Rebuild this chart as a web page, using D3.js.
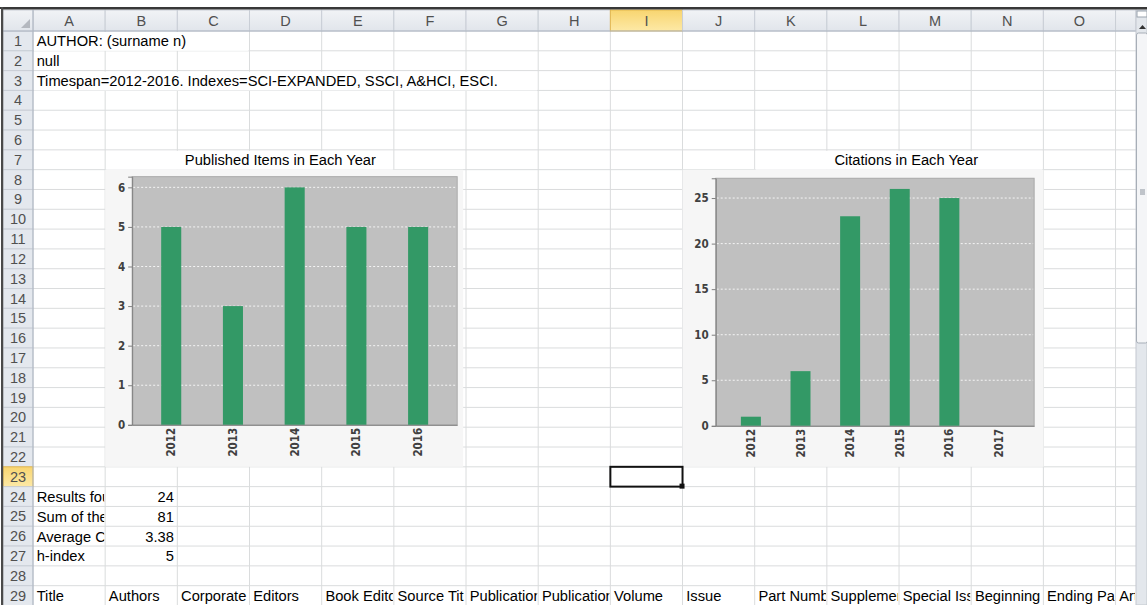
<!DOCTYPE html>
<html>
<head>
<meta charset="utf-8">
<script src="https://cdn.jsdelivr.net/npm/d3@7"></script>
<style>
body { margin: 0; background: #fff; }
svg { display: block; font-family: "Liberation Sans", Arial, sans-serif; }
</style>
</head>
<body>
<svg id="sheet" width="1147" height="605"></svg>
<script>
// data (cell texts as they show in the narrow columns)
var colLetters = ["A", "B", "C", "D", "E", "F", "G", "H", "I", "J", "K", "L", "M", "N", "O", ""];
var infoLines = ["AUTHOR: (surname n)", "null", "Timespan=2012-2016. Indexes=SCI-EXPANDED, SSCI, A&HCI, ESCI."];
var pubTitle = "Published Items in Each Year";
var pubYears = ["2012", "2013", "2014", "2015", "2016"];
var pubCounts = [5, 3, 6, 5, 5];
var citeTitle = "Citations in Each Year";
var citeYears = ["2012", "2013", "2014", "2015", "2016", "2017"];
var citeCounts = [1, 6, 23, 26, 25, 0];
var statLabels = ["Results fou", "Sum of the", "Average C", "h-index"];
var statValues = ["24", "81", "3.38", "5"];
var fieldNames = ["Title", "Authors", "Corporate", "Editors", "Book Edito", "Source Tit",
	"Publication", "Publication", "Volume", "Issue", "Part Numb", "Supplemen",
	"Special Iss", "Beginning", "Ending Pa", "Art"];

var svg = d3.select("#sheet"),
	W = +svg.attr("width"),
	H = +svg.attr("height");

var x0 = 33, y0 = 31, colW = 72.17, rowH = 19.81, sheetRight = 1136;
var nRows = 29, selCol = 8, selRow = 23;
function colX(c) { return x0 + c * colW; }
function rowY(r) { return y0 + (r - 1) * rowH; }

var defs = svg.append("defs");
var clipId = 0;
function clipRect(x, y, w, h) {
	var id = "clip" + (clipId++);
	defs.append("clipPath").attr("id", id).append("rect")
		.attr("x", x).attr("y", y).attr("width", w).attr("height", h);
	return "url(#" + id + ")";
}

svg.append("rect").attr("width", W).attr("height", H).attr("fill", "#fff");

// gridlines
var grid = svg.append("g").attr("stroke", "#dadcdd").attr("stroke-width", 1);
grid.selectAll(".hline")
	.data(d3.range(2, nRows + 2))
	.enter()
	.append("line")
	.attr("x1", x0).attr("x2", sheetRight)
	.attr("y1", function (r) { return rowY(r); })
	.attr("y2", function (r) { return rowY(r); });
grid.selectAll(".vline")
	.data(d3.range(1, colLetters.length))
	.enter()
	.append("line")
	.attr("y1", y0).attr("y2", H)
	.attr("x1", function (c) { return colX(c); })
	.attr("x2", function (c) { return colX(c); });

// cells
var cells = [];
infoLines.forEach(function (t, i) { cells.push({ row: i + 1, col: 0, overflow: true, text: t }); });
cells.push({ row: 7, col: 1, span: 4, indent: 76, text: pubTitle });
cells.push({ row: 7, col: 10, span: 4, indent: 76, text: citeTitle });
statLabels.forEach(function (t, i) {
	cells.push({ row: 24 + i, col: 0, text: t });
	cells.push({ row: 24 + i, col: 1, text: statValues[i], align: "right" });
});
fieldNames.forEach(function (t, i) { cells.push({ row: 29, col: i, text: t }); });

var cellG = svg.append("g").attr("font-size", "14.7px").attr("fill", "#000");
cells.forEach(function (d) {
	var left = colX(d.col), top = rowY(d.row);
	var mask = cellG.append("rect").attr("fill", "#fff");
	var t = cellG.append("text")
		.attr("y", top + 15.3)
		.text(d.text);
	if (d.align == "right") {
		t.attr("x", colX(d.col + 1) - 3.5).attr("text-anchor", "end");
	} else {
		t.attr("x", left + 3.7 + (d.indent || 0));
	}
	var span = d.span || 1;
	if (d.overflow) {
		var end = left + 3.7 + t.node().getComputedTextLength();
		span = Math.max(1, Math.ceil((end - left) / colW));
	}
	if (span > 1) {
		mask.attr("x", left + 1).attr("y", top + 1)
			.attr("width", colX(d.col + span) - left - 2).attr("height", rowH - 1);
	} else {
		mask.remove();
		t.attr("clip-path", clipRect(left, top, Math.min(colX(d.col + 1), sheetRight) - left - 1, rowH));
	}
});

// charts
function drawChart(cfg) {
	var g = svg.append("g");
	g.append("rect")
		.attr("x", cfg.left).attr("y", cfg.top)
		.attr("width", cfg.width).attr("height", cfg.height)
		.attr("fill", "#f6f6f6");

	var px0 = cfg.left + cfg.m.left, px1 = cfg.left + cfg.width - cfg.m.right;
	var py0 = cfg.top + cfg.m.top, py1 = cfg.top + cfg.height - cfg.m.bottom;

	var x = d3.scaleBand().domain(cfg.years).range([px0, px1])
		.paddingInner(cfg.pi).paddingOuter(cfg.po);
	var y = d3.scaleLinear().domain([0, d3.max(cfg.values) * 1.045]).range([py1, py0]);

	g.append("rect")
		.attr("x", px0).attr("y", py0)
		.attr("width", px1 - px0).attr("height", py1 - py0)
		.attr("fill", "#c0c0c0")
		.attr("stroke", "#a9a9a9");

	g.selectAll(".gridline")
		.data(y.ticks(cfg.ticks).filter(function (v) { return v > 0; }))
		.enter()
		.append("line")
		.attr("x1", px0 + 1).attr("x2", px1 - 1)
		.attr("y1", function (v) { return y(v); })
		.attr("y2", function (v) { return y(v); })
		.attr("stroke", "#f4f4f4")
		.attr("stroke-dasharray", "2,2");

	g.selectAll(".bar")
		.data(cfg.values)
		.enter()
		.append("rect")
		.attr("x", function (d, i) { return x(cfg.years[i]); })
		.attr("width", x.bandwidth())
		.attr("y", function (d) { return y(d); })
		.attr("height", function (d) { return py1 - y(d); })
		.attr("fill", "#339966");

	var ya = g.append("g")
		.attr("transform", "translate(" + px0 + ",0)")
		.call(d3.axisLeft(y).ticks(cfg.ticks).tickSize(4).tickPadding(3));
	var xa = g.append("g")
		.attr("transform", "translate(0," + py1 + ")")
		.call(d3.axisBottom(x).tickSize(0));
	xa.selectAll("text")
		.attr("transform", "rotate(-90)")
		.attr("text-anchor", "end")
		.attr("x", -3)
		.attr("y", 0)
		.attr("dy", "0.35em");
	[ya, xa].forEach(function (a) {
		a.selectAll(".domain").attr("stroke", "#7f7f7f");
		a.selectAll(".tick line").attr("stroke", "#7f7f7f");
		a.selectAll("text")
			.style("font-family", "'DejaVu Sans Condensed', 'DejaVu Sans', sans-serif")
			.style("font-stretch", "condensed")
			.style("font-size", "11.5px")
			.style("font-weight", "bold")
			.attr("fill", "#404040");
	});
}

drawChart({
	left: colX(1), top: rowY(8), width: 358, height: rowY(23) - rowY(8),
	m: { left: 27, right: 6, top: 7, bottom: 42 },
	years: pubYears, values: pubCounts, ticks: 6, pi: 0.675, po: 0.47
});
drawChart({
	left: colX(9), top: rowY(8), width: 361, height: rowY(23) - rowY(8),
	m: { left: 33.2, right: 9.4, top: 8.6, bottom: 41 },
	years: citeYears, values: citeCounts, ticks: 5, pi: 0.597, po: 0.507
});

// selected cell
svg.append("rect")
	.attr("x", colX(selCol)).attr("y", rowY(selRow))
	.attr("width", colW).attr("height", rowH)
	.attr("fill", "none").attr("stroke", "#111").attr("stroke-width", 2);
svg.append("rect")
	.attr("x", colX(selCol + 1) - 3).attr("y", rowY(selRow + 1) - 3)
	.attr("width", 5).attr("height", 5).attr("fill", "#111");

// headers
var hdrGrad = defs.append("linearGradient").attr("id", "hdr").attr("x1", 0).attr("y1", 0).attr("x2", 0).attr("y2", 1);
hdrGrad.append("stop").attr("offset", 0).attr("stop-color", "#f1f3f6");
hdrGrad.append("stop").attr("offset", 1).attr("stop-color", "#e1e5eb");
var selGrad = defs.append("linearGradient").attr("id", "selhdr").attr("x1", 0).attr("y1", 0).attr("x2", 0).attr("y2", 1);
selGrad.append("stop").attr("offset", 0).attr("stop-color", "#f8d570");
selGrad.append("stop").attr("offset", 1).attr("stop-color", "#fde9a6");

var hdr = svg.append("g").attr("font-size", "14.5px").attr("fill", "#505050");
var colHdr = hdr.selectAll(".colhdr")
	.data(colLetters)
	.enter()
	.append("g");
colHdr.append("rect")
	.attr("x", function (d, i) { return colX(i); })
	.attr("y", 10)
	.attr("width", function (d, i) { return Math.min(colW, sheetRight - colX(i)); })
	.attr("height", y0 - 10)
	.attr("fill", function (d, i) { return i == selCol ? "url(#selhdr)" : "url(#hdr)"; })
	.attr("stroke", function (d, i) { return i == selCol ? "#e2b74f" : "#c9ced6"; });
colHdr.append("text")
	.attr("x", function (d, i) { return colX(i) + colW / 2; })
	.attr("y", 25.5)
	.attr("text-anchor", "middle")
	.text(function (d) { return d; });

var rowHdr = hdr.selectAll(".rowhdr")
	.data(d3.range(1, nRows + 1))
	.enter()
	.append("g");
rowHdr.append("rect")
	.attr("x", 3).attr("y", function (r) { return rowY(r); })
	.attr("width", x0 - 3).attr("height", rowH)
	.attr("fill", function (r) { return r == selRow ? "url(#selhdr)" : "#e4e8ee"; })
	.attr("stroke", function (r) { return r == selRow ? "#e2b74f" : "#c9ced6"; });
rowHdr.append("text")
	.attr("x", 18).attr("y", function (r) { return rowY(r) + 15; })
	.attr("text-anchor", "middle")
	.text(function (r) { return r; });

// corner
hdr.append("rect").attr("x", 3).attr("y", 10).attr("width", x0 - 3).attr("height", y0 - 10)
	.attr("fill", "url(#hdr)").attr("stroke", "#c9ced6");
hdr.append("path").attr("d", "M 21 28 L 30 28 L 30 19 Z").attr("fill", "#b4b8bf");
hdr.append("line").attr("x1", 3).attr("x2", sheetRight).attr("y1", y0).attr("y2", y0).attr("stroke", "#aeb6c2");
hdr.append("line").attr("x1", x0).attr("x2", x0).attr("y1", 10).attr("y2", H).attr("stroke", "#aeb6c2");

// scrollbar
var sb = svg.append("g");
sb.append("rect").attr("x", sheetRight).attr("y", 10).attr("width", W - sheetRight).attr("height", H - 10)
	.attr("fill", "#e3e7ec").attr("stroke", "#c3c8cf");
sb.append("rect").attr("x", sheetRight + 1).attr("y", 11).attr("width", 10).attr("height", 6)
	.attr("fill", "#fff").attr("stroke", "#9aa3ad");
sb.append("path").attr("d", "M " + (sheetRight + 3) + " 29 L " + (sheetRight + 10) + " 29 L " + (sheetRight + 6.5) + " 25 Z")
	.attr("fill", "#333");
sb.append("rect").attr("x", sheetRight + 0.5).attr("y", 33).attr("width", W - sheetRight).attr("height", 310)
	.attr("rx", 2).attr("fill", "#f4f5f7").attr("stroke", "#a7aeb7");
sb.selectAll(".grip").data([-2, 0, 2]).enter().append("line")
	.attr("x1", sheetRight + 4).attr("x2", sheetRight + 9)
	.attr("y1", function (d) { return 192 + d; })
	.attr("y2", function (d) { return 192 + d; })
	.attr("stroke", "#8a929c");

// window frame
svg.append("rect").attr("x", 0).attr("y", 0).attr("width", W).attr("height", 7).attr("fill", "#fff");
svg.append("rect").attr("x", 0).attr("y", 7).attr("width", W).attr("height", 2.5).attr("fill", "#383838");
svg.append("rect").attr("x", 0).attr("y", 9).attr("width", 1).attr("height", H).attr("fill", "#fff");
svg.append("rect").attr("x", 1).attr("y", 7).attr("width", 2.2).attr("height", H).attr("fill", "#4a4a4a");
</script>
</body>
</html>
